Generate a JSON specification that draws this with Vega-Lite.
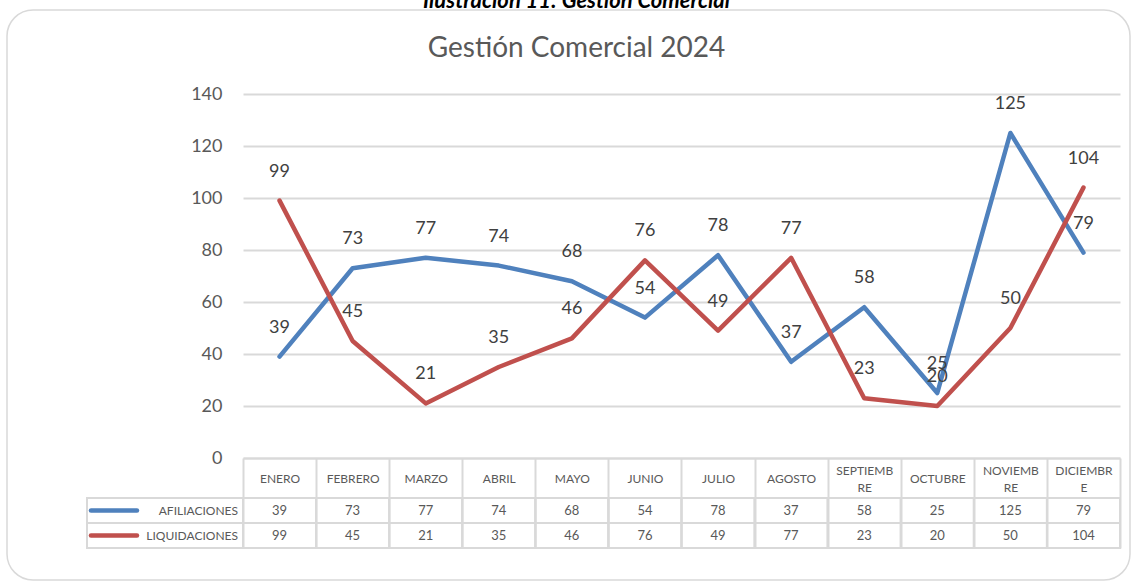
{
  "$schema": "https://vega.github.io/schema/vega-lite/v6.json",
  "autosize": {"type": "none"},
  "width": 877,
  "height": 364,
  "padding": {"left": 243, "top": 94, "right": 14, "bottom": 130},
  "background": "white",
  "config": {"font": "Lato", "view": {"stroke": null}},
  "title": {
    "text": "Ilustración 11: Gestión Comercial",
    "subtitle": "Gestión Comercial 2024",
    "anchor": "middle",
    "frame": "group",
    "dx": -105,
    "offset": -55,
    "font": "Lato",
    "fontSize": 22,
    "fontStyle": "italic",
    "fontWeight": "bold",
    "color": "black",
    "subtitleFont": "Lato",
    "subtitleFontSize": 28,
    "subtitleColor": "#595959",
    "subtitlePadding": 22
  },
  "datasets": {
    "meses": [
      {"mes": "ENERO", "serie": "AFILIACIONES", "valor": 39},
      {"mes": "FEBRERO", "serie": "AFILIACIONES", "valor": 73},
      {"mes": "MARZO", "serie": "AFILIACIONES", "valor": 77},
      {"mes": "ABRIL", "serie": "AFILIACIONES", "valor": 74},
      {"mes": "MAYO", "serie": "AFILIACIONES", "valor": 68},
      {"mes": "JUNIO", "serie": "AFILIACIONES", "valor": 54},
      {"mes": "JULIO", "serie": "AFILIACIONES", "valor": 78},
      {"mes": "AGOSTO", "serie": "AFILIACIONES", "valor": 37},
      {"mes": "SEPTIEMBRE", "serie": "AFILIACIONES", "valor": 58},
      {"mes": "OCTUBRE", "serie": "AFILIACIONES", "valor": 25},
      {"mes": "NOVIEMBRE", "serie": "AFILIACIONES", "valor": 125},
      {"mes": "DICIEMBRE", "serie": "AFILIACIONES", "valor": 79},
      {"mes": "ENERO", "serie": "LIQUIDACIONES", "valor": 99},
      {"mes": "FEBRERO", "serie": "LIQUIDACIONES", "valor": 45},
      {"mes": "MARZO", "serie": "LIQUIDACIONES", "valor": 21},
      {"mes": "ABRIL", "serie": "LIQUIDACIONES", "valor": 35},
      {"mes": "MAYO", "serie": "LIQUIDACIONES", "valor": 46},
      {"mes": "JUNIO", "serie": "LIQUIDACIONES", "valor": 76},
      {"mes": "JULIO", "serie": "LIQUIDACIONES", "valor": 49},
      {"mes": "AGOSTO", "serie": "LIQUIDACIONES", "valor": 77},
      {"mes": "SEPTIEMBRE", "serie": "LIQUIDACIONES", "valor": 23},
      {"mes": "OCTUBRE", "serie": "LIQUIDACIONES", "valor": 20},
      {"mes": "NOVIEMBRE", "serie": "LIQUIDACIONES", "valor": 50},
      {"mes": "DICIEMBRE", "serie": "LIQUIDACIONES", "valor": 104}
    ],
    "series": [
      {"serie": "AFILIACIONES"},
      {"serie": "LIQUIDACIONES"}
    ],
    "marco": [{"elemento": "borde"}]
  },
  "resolve": {"scale": {"x": "independent", "y": "independent", "color": "independent"}},
  "layer": [
    {
      "data": {"name": "marco"},
      "mark": {"type": "rect", "filled": false, "stroke": "#D9D9D9", "strokeWidth": 1.5, "cornerRadius": 26},
      "encoding": {
        "x": {"datum": 0, "type": "quantitative", "scale": {"domain": [0, 1], "range": [-236, 887], "nice": false, "zero": false}, "axis": null},
        "x2": {"datum": 1},
        "y": {"datum": 0, "type": "quantitative", "scale": {"domain": [0, 1], "range": [-84, 486], "nice": false, "zero": false}, "axis": null},
        "y2": {"datum": 1}
      }
    },
    {
      "data": {"name": "meses"},
      "encoding": {
        "x": {
          "field": "mes",
          "type": "nominal",
          "bandPosition": 0.5,
          "scale": {"type": "band", "domain": ["ENERO", "FEBRERO", "MARZO", "ABRIL", "MAYO", "JUNIO", "JULIO", "AGOSTO", "SEPTIEMBRE", "OCTUBRE", "NOVIEMBRE", "DICIEMBRE"], "paddingInner": 0, "paddingOuter": 0},
          "axis": {
            "title": null,
            "orient": "bottom",
            "grid": false,
            "tickBand": "extent",
            "tickSize": 90,
            "tickColor": "#D9D9D9",
            "tickWidth": 2,
            "domainColor": "#D9D9D9",
            "domainWidth": 2,
            "labelFontSize": 12,
            "labelColor": "#595959",
            "labelAngle": 0,
            "labelPadding": {"condition": {"test": "indexof(['SEPTIEMBRE', 'NOVIEMBRE', 'DICIEMBRE'], datum.value) >= 0", "value": -78}, "value": -70},
            "labelBaseline": "middle",
            "labelLineHeight": 17,
            "labelLimit": 0,
            "labelOverlap": false,
            "labelFlush": false,
            "labelExpr": "datum.label == 'SEPTIEMBRE' ? ['SEPTIEMB', 'RE'] : datum.label == 'NOVIEMBRE' ? ['NOVIEMB', 'RE'] : datum.label == 'DICIEMBRE' ? ['DICIEMBR', 'E'] : datum.label"
          }
        },
        "y": {
          "field": "valor",
          "type": "quantitative",
          "scale": {"domain": [0, 140], "nice": false},
          "axis": {
            "title": null,
            "values": [0, 20, 40, 60, 80, 100, 120, 140],
            "grid": true,
            "gridColor": "#D9D9D9",
            "gridWidth": 2,
            "domain": false,
            "ticks": false,
            "labelFontSize": 18,
            "labelColor": "#595959",
            "labelPadding": 21
          }
        },
        "color": {
          "field": "serie",
          "type": "nominal",
          "scale": {"domain": ["AFILIACIONES", "LIQUIDACIONES"], "range": ["#4F81BD", "#C0504D"]},
          "legend": null
        }
      },
      "layer": [
        {"mark": {"type": "line", "strokeWidth": 4.5, "strokeCap": "round", "strokeJoin": "round"}},
        {
          "mark": {"type": "text", "dy": -29, "fontSize": 18, "baseline": "middle"},
          "encoding": {
            "text": {"field": "valor", "type": "quantitative"},
            "color": {"value": "#404040"}
          }
        }
      ]
    },
    {
      "data": {"name": "meses"},
      "encoding": {
        "x": {
          "field": "mes",
          "type": "nominal",
          "scale": {"type": "band", "domain": ["ENERO", "FEBRERO", "MARZO", "ABRIL", "MAYO", "JUNIO", "JULIO", "AGOSTO", "SEPTIEMBRE", "OCTUBRE", "NOVIEMBRE", "DICIEMBRE"], "paddingInner": 0, "paddingOuter": 0},
          "axis": null
        },
        "y": {
          "field": "serie",
          "type": "nominal",
          "scale": {"type": "band", "domain": ["AFILIACIONES", "LIQUIDACIONES"], "range": [404, 454], "paddingInner": 0, "paddingOuter": 0},
          "axis": null
        }
      },
      "layer": [
        {"mark": {"type": "rect", "filled": false, "stroke": "#D9D9D9", "strokeWidth": 2}},
        {
          "mark": {"type": "text", "fontSize": 13, "color": "#595959", "baseline": "middle"},
          "encoding": {"text": {"field": "valor", "type": "quantitative"}}
        }
      ]
    },
    {
      "data": {"name": "series"},
      "encoding": {
        "x": {
          "datum": "leyenda",
          "type": "nominal",
          "scale": {"type": "band", "domain": ["leyenda"], "range": [-156, 0], "paddingInner": 0, "paddingOuter": 0},
          "axis": null
        },
        "y": {
          "field": "serie",
          "type": "nominal",
          "scale": {"type": "band", "domain": ["AFILIACIONES", "LIQUIDACIONES"], "range": [404, 454], "paddingInner": 0, "paddingOuter": 0},
          "axis": null
        }
      },
      "layer": [
        {"mark": {"type": "rect", "filled": false, "stroke": "#D9D9D9", "strokeWidth": 2}},
        {
          "mark": {"type": "text", "align": "right", "dx": -5, "fontSize": 12, "color": "#595959", "baseline": "middle"},
          "encoding": {
            "x": {"datum": "leyenda", "type": "nominal", "bandPosition": 1},
            "text": {"field": "serie", "type": "nominal"}
          }
        },
        {
          "mark": {"type": "point", "shape": "M-1,0L1,0", "size": 2116, "strokeWidth": 4.5, "strokeCap": "round", "filled": false, "opacity": 1},
          "encoding": {
            "x": {"datum": "leyenda", "type": "nominal", "bandPosition": 0.173},
            "color": {
              "field": "serie",
              "type": "nominal",
              "scale": {"domain": ["AFILIACIONES", "LIQUIDACIONES"], "range": ["#4F81BD", "#C0504D"]},
              "legend": null
            }
          }
        }
      ]
    }
  ]
}
